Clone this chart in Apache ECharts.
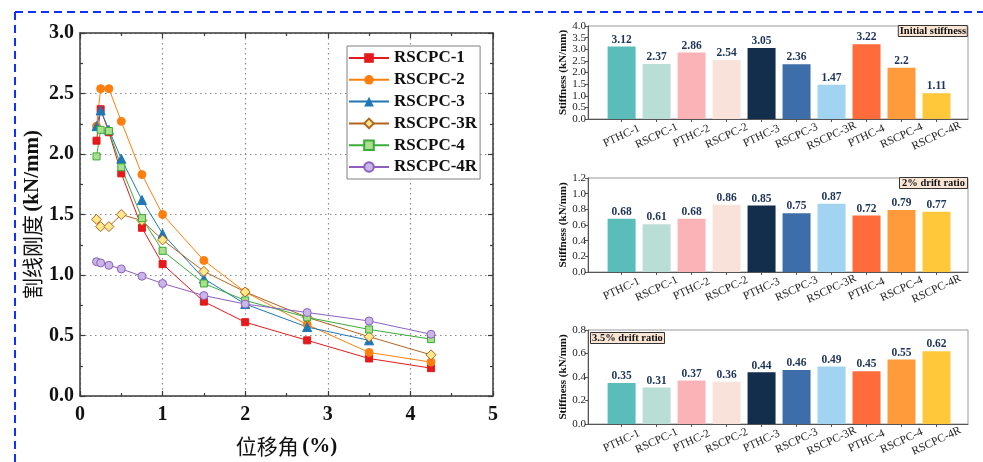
<!DOCTYPE html>
<html><head><meta charset="utf-8">
<script src="https://cdn.jsdelivr.net/npm/echarts@6/dist/echarts.min.js"></script>
<style>html,body{margin:0;padding:0;background:#fff}#c{width:983px;height:462px}</style>
</head><body><div id="c"></div>
<script>
// ---- data ----
const drift = [0.2, 0.25, 0.35, 0.5, 0.75, 1, 1.5, 2, 2.75, 3.5, 4.25];
const rscpc1  = [2.11, 2.37, 2.18, 1.84, 1.39, 1.09, 0.78, 0.61, 0.46, 0.31, 0.23];
const rscpc2  = [2.23, 2.54, 2.54, 2.27, 1.83, 1.50, 1.12, 0.86, 0.59, 0.36, 0.28];
const rscpc3  = [2.23, 2.36, 2.20, 1.96, 1.62, 1.34, 0.97, 0.76, 0.57, 0.46, null];
const rscpc3r = [1.46, 1.40, 1.40, 1.50, 1.45, 1.29, 1.03, 0.86, 0.65, 0.49, 0.34];
const rscpc4  = [1.98, 2.20, 2.19, 1.89, 1.47, 1.20, 0.93, 0.79, 0.65, 0.55, 0.47];
const rscpc4r = [1.11, 1.10, 1.08, 1.05, 0.99, 0.93, 0.83, 0.76, 0.69, 0.62, 0.51];

const categories = ['PTHC-1','RSCPC-1','PTHC-2','RSCPC-2','PTHC-3','RSCPC-3','RSCPC-3R','PTHC-4','RSCPC-4','RSCPC-4R'];
const initialStiffness = [3.12, 2.37, 2.86, 2.54, 3.05, 2.36, 1.47, 3.22, 2.2, 1.11];
const drift2Stiffness  = [0.68, 0.61, 0.68, 0.86, 0.85, 0.75, 0.87, 0.72, 0.79, 0.77];
const drift35Stiffness = [0.35, 0.31, 0.37, 0.36, 0.44, 0.46, 0.49, 0.45, 0.55, 0.62];

const leftYTicks = [0, 0.5, 1.0, 1.5, 2.0, 2.5, 3.0];
const leftXTicks = [0, 1, 2, 3, 4, 5];

// ---- styles ----
const palette = ['#5bbdba','#b8ded5','#fcb3b8','#f9e2d9','#132d4d','#3e6ea9','#a2d3f0','#ff6b3a','#ff9b3b','#ffc83b'];
const SERIF = "'Liberation Serif','Times New Roman','Noto Sans CJK SC',serif";
const CJK = "'Noto Sans CJK SC',sans-serif";
const AX = '#3a3a3a';

const chart = echarts.init(document.getElementById('c'), null, {renderer:'canvas'});

function pairs(ys){ return drift.map((x,i)=> ys[i]==null ? null : [x, ys[i]]).filter(d=>d); }

const lineSeries = [
  {name:'RSCPC-1', data:pairs(rscpc1), symbol:'rect', symbolSize:7, color:'#e41a1c', itemStyle:{color:'#e41a1c', borderColor:'#e41a1c'}, lineStyle:{color:'#e41a1c'}},
  {name:'RSCPC-2', data:pairs(rscpc2), symbol:'circle', symbolSize:8, color:'#ff7f0e', itemStyle:{color:'#ff7f0e', borderColor:'#ff7f0e'}, lineStyle:{color:'#ff7f0e'}},
  {name:'RSCPC-3', data:pairs(rscpc3), symbol:'triangle', symbolSize:9, color:'#1f77b4', itemStyle:{color:'#1f77b4', borderColor:'#1f77b4'}, lineStyle:{color:'#1f77b4'}},
  {name:'RSCPC-3R', data:pairs(rscpc3r), symbol:'diamond', symbolSize:10, color:'#b2651f', itemStyle:{color:'#ffe98c', borderColor:'#b2651f', borderWidth:1}, lineStyle:{color:'#b2651f'}},
  {name:'RSCPC-4', data:pairs(rscpc4), symbol:'rect', symbolSize:7, color:'#3aab3a', itemStyle:{color:'#a9df8d', borderColor:'#3aab3a', borderWidth:1}, lineStyle:{color:'#3aab3a'}},
  {name:'RSCPC-4R', data:pairs(rscpc4r), symbol:'circle', symbolSize:8, color:'#8c60bf', itemStyle:{color:'#c9b5e6', borderColor:'#8c60bf', borderWidth:1}, lineStyle:{color:'#8c60bf'}}
].map(s=>Object.assign({type:'line', xAxisIndex:0, yAxisIndex:0, showSymbol:true, z:5}, s, {lineStyle:Object.assign({width:1}, s.lineStyle)}));

const barGrids = [
  {left:588, top:26, width:380, height:93},
  {left:588, top:178, width:380, height:94},
  {left:588, top:330, width:380, height:94}
];
const barYs = [{max:4, interval:0.5}, {max:1.2, interval:0.2}, {max:0.8, interval:0.2}];
const barData = [initialStiffness, drift2Stiffness, drift35Stiffness];
const idx = categories.map((c,i)=>i);

const grids = [{left:80, top:33, width:413, height:364, show:false}].concat(
  barGrids.map(g=>Object.assign({show:true, borderColor:'#9a9a9a', borderWidth:1, backgroundColor:'transparent'}, g)));

const xAxes = [
  {gridIndex:0, type:'value', min:0, max:5, interval:1, position:'bottom',
   axisLine:{onZero:false, lineStyle:{color:AX, width:1.5}}, axisTick:{inside:true, length:5, lineStyle:{color:AX, width:1.2}},
   minorTick:{show:true, splitNumber:2, length:3, lineStyle:{color:AX, width:1.2}},
   splitLine:{show:true, lineStyle:{color:'#8a8a8a', type:[1.5,3.5], width:1.2}},
   axisLabel:{fontFamily:SERIF, fontWeight:'bold', fontSize:20, color:'#111', margin:9,
              customValues:leftXTicks, formatter:v=>String(v)},
   name:'{c|位移角} {b|(%)}', nameLocation:'middle', nameGap:40,
   nameTextStyle:{rich:{c:{fontFamily:CJK, fontSize:21, color:'#111'},
                        b:{fontFamily:SERIF, fontSize:21, fontWeight:'bold', color:'#111'}}}},
  {gridIndex:0, type:'value', min:0, max:5, interval:1, position:'top',
   axisLine:{onZero:false, lineStyle:{color:AX, width:1.5}}, axisTick:{inside:true, length:5, lineStyle:{color:AX, width:1.2}},
   minorTick:{show:true, splitNumber:2, length:3, lineStyle:{color:AX, width:1.2}},
   splitLine:{show:false}, axisLabel:{show:false}}
];
const yAxes = [
  {gridIndex:0, type:'value', min:0, max:3, interval:0.5, position:'left',
   axisLine:{show:true, onZero:false, lineStyle:{color:AX, width:1.5}}, axisTick:{show:true, inside:true, length:5, lineStyle:{color:AX, width:1.2}},
   minorTick:{show:true, splitNumber:2, length:3, lineStyle:{color:AX, width:1.2}},
   splitLine:{show:true, lineStyle:{color:'#8a8a8a', type:[1.5,3.5], width:1.2}},
   axisLabel:{fontFamily:SERIF, fontWeight:'bold', fontSize:20, color:'#111', margin:6,
              customValues:leftYTicks, formatter:v=>v.toFixed(1)},
   name:'{c|割线刚度} {b|(kN/mm)}', nameLocation:'middle', nameGap:37,
   nameTextStyle:{rich:{c:{fontFamily:CJK, fontSize:21, color:'#111'},
                        b:{fontFamily:SERIF, fontSize:21, fontWeight:'bold', color:'#111'}}}},
  {gridIndex:0, type:'value', min:0, max:3, interval:0.5, position:'right',
   axisLine:{show:true, onZero:false, lineStyle:{color:AX, width:1.5}}, axisTick:{show:true, inside:true, length:5, lineStyle:{color:AX, width:1.2}},
   minorTick:{show:true, splitNumber:2, length:3, lineStyle:{color:AX, width:1.2}},
   splitLine:{show:false}, axisLabel:{show:false}}
];

const series = lineSeries.slice();
barGrids.forEach((g,k)=>{
  const gi = k+1;
  xAxes.push({gridIndex:gi, type:'value', min:-0.96, max:9.9, position:'bottom',
    axisLine:{show:true, onZero:false, lineStyle:{color:'#555', width:1}},
    axisTick:{show:true, length:3, customValues:idx, lineStyle:{color:'#555'}},
    splitLine:{show:false},
    axisLabel:{customValues:idx, formatter:v=>categories[Math.round(v)], rotate:25, align:'center', verticalAlign:'middle',
      margin:17, fontFamily:SERIF, fontSize:11.5, color:'#222'}});
  yAxes.push({gridIndex:gi, type:'value', min:0, max:barYs[k].max, interval:barYs[k].interval, position:'left',
    axisLine:{show:true, onZero:false, lineStyle:{color:'#555', width:1}},
    axisTick:{show:true, length:3, lineStyle:{color:'#555'}},
    splitLine:{show:false},
    axisLabel:{fontFamily:SERIF, fontSize:11, color:'#222', margin:2, formatter:v=>v.toFixed(1)},
    name:'Stiffness (kN/mm)', nameLocation:'middle', nameGap:16,
    nameTextStyle:{fontFamily:SERIF, fontSize:11, fontWeight:'bold', color:'#111'}});
  series.push({type:'bar', xAxisIndex:gi+1, yAxisIndex:gi+1, barWidth:28,
    data: barData[k].map((v,i)=>({value:[i, v], itemStyle:{color:palette[i]}})),
    label:{show:true, position:'top', distance:1, formatter:p=>String(p.value[1]),
      fontFamily:SERIF, fontWeight:'bold', fontSize:11.5, color:'#1e3358'}});
});

const boxStyle = {fontFamily:SERIF, fontWeight:'bold', fontSize:10.5, color:'#111'};
const option = {
  animation:false,
  backgroundColor:'#fff',
  title:[
    {text:'Initial stiffness', right:15, top:25, padding:[1,2,0,2], backgroundColor:'#fbe6d6', borderColor:'#333', borderWidth:1, textStyle:boxStyle},
    {text:'2% drift ratio', right:15, top:177, padding:[1,3,0,3], backgroundColor:'#fbe6d6', borderColor:'#333', borderWidth:1, textStyle:boxStyle},
    {text:'3.5% drift ratio', left:590, top:332, padding:[1,2,0,2], backgroundColor:'#fbe6d6', borderColor:'#333', borderWidth:1, textStyle:boxStyle}
  ],
  legend:{data:lineSeries.map(s=>s.name), orient:'vertical', left:347, top:46, padding:[3,3,3,1],
    itemWidth:40, itemHeight:12, itemGap:3.8, borderColor:'#808080', borderWidth:1, backgroundColor:'#fff',
    textStyle:{fontFamily:SERIF, fontWeight:'bold', fontSize:17, color:'#111', lineHeight:18}},
  grid:grids,
  xAxis:xAxes,
  yAxis:yAxes,
  series:series,
  graphic:[
    {type:'line', shape:{x1:15, y1:12, x2:983, y2:12}, style:{stroke:'#1030ff', lineWidth:2, lineDash:[8,5]}, silent:true},
    {type:'line', shape:{x1:15, y1:12, x2:15, y2:462}, style:{stroke:'#1030ff', lineWidth:2, lineDash:[8,5]}, silent:true}
  ]
};
chart.setOption(option);
</script></body></html>
